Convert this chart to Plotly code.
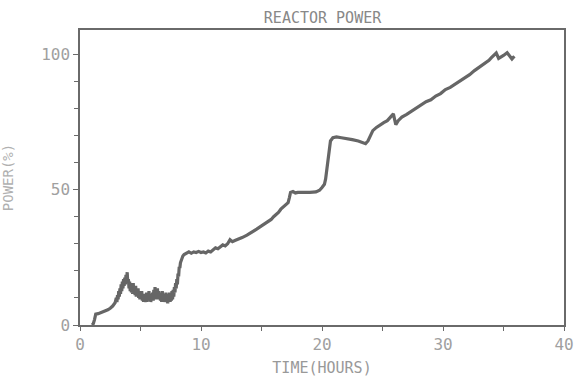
import plotly.graph_objects as go

time_h = [1.0, 1.1, 1.2, 1.3, 1.5, 1.7, 1.9, 2.1, 2.3, 2.5, 2.7, 2.9,
          3.00, 3.05, 3.10, 3.15, 3.20, 3.25, 3.30, 3.35, 3.40, 3.45, 3.50, 3.55,
          3.60, 3.65, 3.70, 3.75, 3.80, 3.85, 3.90, 3.95, 4.00, 4.05, 4.10, 4.15,
          4.20, 4.25, 4.30, 4.35, 4.40, 4.45, 4.50, 4.55, 4.60, 4.65, 4.70, 4.75,
          4.80, 4.85, 4.90, 4.95, 5.00, 5.05, 5.10, 5.15, 5.20, 5.25, 5.30, 5.35,
          5.40, 5.45, 5.50, 5.55, 5.60, 5.65, 5.70, 5.75, 5.80, 5.85, 5.90, 5.95,
          6.00, 6.05, 6.10, 6.15, 6.20, 6.25, 6.30, 6.35, 6.40, 6.45, 6.50, 6.55,
          6.60, 6.65, 6.70, 6.75, 6.80, 6.85, 6.90, 6.95, 7.00, 7.05, 7.10, 7.15,
          7.20, 7.25, 7.30, 7.35, 7.40, 7.45, 7.50, 7.55, 7.60, 7.65, 7.70, 7.75,
          7.80, 7.85, 7.90, 7.95, 8.00, 8.05, 8.10, 8.15, 8.20, 8.25, 8.30, 8.40,
          8.50, 8.60,
          8.8, 9.0, 9.2, 9.4, 9.6, 9.8, 10.0, 10.2, 10.4, 10.6, 10.8, 11.0, 11.2,
          11.4, 11.6, 11.8, 12.0, 12.2, 12.4, 12.6, 12.8, 13.0, 13.4, 13.8, 14.2,
          14.6, 15.0, 15.4, 15.6, 15.8, 16.0, 16.2, 16.4, 16.6, 16.8, 17.0, 17.2,
          17.3, 17.4, 17.6, 17.8, 18.0, 18.5, 19.0, 19.5, 19.8, 20.0, 20.2, 20.3,
          20.4, 20.5, 20.6, 20.7, 20.9, 21.2, 21.6, 22.0, 22.5, 23.0, 23.3, 23.6,
          23.8, 24.0, 24.2, 24.5, 24.8, 25.1, 25.4, 25.7, 25.9, 26.0, 26.1, 26.3,
          26.6, 27.0, 27.4, 27.8, 28.2, 28.6, 29.0, 29.4, 29.8, 30.2, 30.6, 31.0,
          31.4, 31.8, 32.2, 32.6, 33.0, 33.4, 33.8, 34.0, 34.2, 34.4, 34.6, 34.8,
          35.0, 35.3, 35.5, 35.7, 35.9]

power_pct = [0.0, 0.5, 2.0, 4.0, 4.2, 4.5, 4.8, 5.2, 5.6, 6.2, 7.0, 8.2,
             10.0, 8.5, 11.0, 9.5, 12.5, 10.5, 13.5, 11.5, 15.0, 12.5, 16.0, 13.5,
             17.0, 14.5, 17.5, 15.0, 18.5, 16.0, 19.5, 15.5, 17.0, 13.5, 16.0, 12.5,
             15.5, 12.0, 14.5, 11.5, 15.5, 11.5, 14.0, 11.0, 14.5, 10.5, 13.0, 10.5,
             13.5, 10.0, 12.5, 9.5, 12.0, 9.5, 12.5, 9.0, 11.5, 8.5, 11.5, 8.5,
             11.0, 8.5, 12.0, 8.5, 11.5, 9.0, 12.5, 9.0, 11.5, 8.5, 11.0, 9.0,
             12.0, 9.0, 13.0, 9.5, 14.0, 9.5, 12.5, 10.0, 13.5, 9.5, 12.5, 9.5,
             12.0, 9.0, 11.5, 8.5, 12.5, 9.0, 11.5, 8.5, 11.0, 8.5, 12.0, 8.5,
             11.5, 8.0, 11.0, 8.5, 12.0, 8.5, 11.5, 9.0, 12.5, 9.5, 13.0, 10.5,
             14.0, 12.0, 15.5, 13.5, 17.0, 15.0, 19.0, 18.0, 21.5, 21.0, 23.0, 24.5,
             25.5, 26.0,
             26.5, 27.0, 26.5, 27.0, 26.8, 27.2, 26.8, 27.0, 26.6, 27.3, 27.0, 27.8, 28.5,
             28.2, 29.0, 29.6, 29.2, 30.0, 31.5, 30.8, 31.2, 31.5, 32.3, 33.2, 34.2,
             35.4, 36.6, 37.8, 38.5, 39.0, 40.0, 40.8, 41.6, 42.8, 43.5, 44.5, 45.2,
             47.0, 49.0, 49.3, 48.8, 49.0, 48.9, 49.0, 49.2, 49.8, 50.8, 52.0, 54.0,
             58.0, 62.0, 66.0, 68.0, 69.2, 69.5, 69.2, 69.0, 68.5, 68.0, 67.5, 67.0,
             68.0, 70.0, 71.8, 73.0, 74.0, 74.8, 75.5, 76.8, 78.0, 76.0, 74.0, 75.5,
             76.8, 77.8, 79.0, 80.2, 81.2, 82.5, 83.2, 84.6, 85.5, 87.0, 87.8, 89.0,
             90.0, 91.2, 92.5, 94.0, 95.2, 96.6, 97.8, 98.8, 99.5, 100.5, 98.5, 99.0,
             99.6, 100.6, 99.5, 98.3, 99.3]

x_ticks = [0, 10, 20, 30, 40]
y_ticks = [0, 50, 100]

FONT = "DejaVu Sans Mono"
TXT = "#a0a0a0"
AX = "#6a6a6a"

fig = go.Figure()
fig.add_trace(go.Scatter(
    x=time_h, y=power_pct, mode="lines",
    line=dict(color="#666666", width=3.2),
    showlegend=False, hoverinfo="skip",
))

fig.update_layout(
    width=576, height=380,
    margin=dict(l=80, r=12, t=30, b=55, autoexpand=False),
    paper_bgcolor="white", plot_bgcolor="white",
    font=dict(family=FONT, color=TXT, size=16),
    title=dict(text="REACTOR POWER", x=0.56, xanchor="center",
               y=1 - 18 / 380, yanchor="middle",
               font=dict(family=FONT, size=15, color="#888888")),
)

fig.update_xaxes(
    range=[0, 40], tickvals=x_ticks, ticktext=[str(v) for v in x_ticks],
    ticklabeloverflow="allow", automargin=False,
    showgrid=False, zeroline=False,
    showline=True, linecolor=AX, linewidth=1.5, mirror=True,
    ticks="outside", ticklen=4, tickcolor=AX, tickwidth=1,
    minor=dict(tickvals=[5, 15, 25, 35], ticks="outside", ticklen=4, tickcolor=AX),
    tickfont=dict(family=FONT, size=16, color=TXT),
    title=dict(text="TIME(HOURS)", standoff=10,
               font=dict(family=FONT, size=15, color="#999999")),
)
fig.update_yaxes(
    range=[0, 109], tickvals=y_ticks, ticktext=[str(v) for v in y_ticks],
    automargin=False,
    showgrid=False, zeroline=False,
    showline=True, linecolor=AX, linewidth=1.5, mirror=True,
    ticks="outside", ticklen=5, tickcolor=AX, tickwidth=1,
    minor=dict(tickvals=[10, 20, 30, 40, 60, 70, 80, 90], ticks="outside",
               ticklen=4, tickcolor=AX),
    tickfont=dict(family=FONT, size=16, color=TXT),
    title=dict(text="POWER(%)", standoff=24,
               font=dict(family=FONT, size=14, color="#b0b0b0")),
)

fig.write_html("out.html")
